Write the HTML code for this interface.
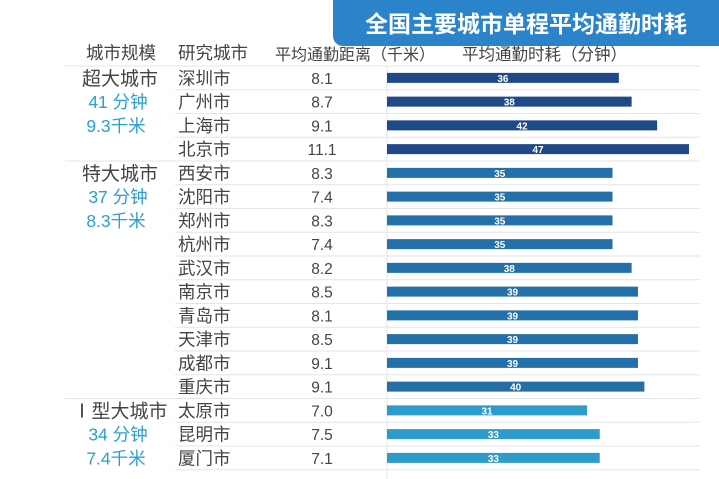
<!DOCTYPE html>
<html><head><meta charset="utf-8"><style>
body{margin:0;width:719px;height:479px;overflow:hidden;background:#fff;font-family:"Liberation Sans","Noto Sans CJK SC",sans-serif;position:relative}
.a{position:absolute;white-space:nowrap}
</style></head><body>
<div class="a" style="left:333px;top:-4px;width:392px;height:50px;background:#2b84c9;border-radius:0 0 0 10px"></div>
<div class="a" style="left:333px;top:5px;width:386px;text-align:center;color:#fff;font-size:23px;font-weight:bold">全国主要城市单程平均通勤时耗</div>
<div class="a" style="left:86px;top:40px;font-size:17.5px;color:#444">城市规模</div>
<div class="a" style="left:178px;top:40px;font-size:17.5px;color:#444">研究城市</div>
<div class="a" style="left:275px;top:41px;font-size:16px;color:#444">平均通勤距离（千米）</div>
<div class="a" style="left:462px;top:41px;font-size:16.5px;color:#444">平均通勤时耗（分钟）</div>
<svg class="a" style="left:0;top:0" width="719" height="479"></svg>
<script>
const cities=["深圳市","广州市","上海市","北京市","西安市","沈阳市","郑州市","杭州市","武汉市","南京市","青岛市","天津市","成都市","重庆市","太原市","昆明市","厦门市"];
const distances=["8.1","8.7","9.1","11.1","8.3","7.4","8.3","7.4","8.2","8.5","8.1","8.5","9.1","9.1","7.0","7.5","7.1"];
const times=[36,38,42,47,35,35,35,35,38,39,39,39,39,40,31,33,33];
const groupNames=["超大城市","特大城市","Ⅰ型大城市"];
const groupTime=["41 分钟","37 分钟","34 分钟"];
const groupDist=["9.3千米","8.3千米","7.4千米"];
const groupStart=[0,4,14];
const colors=["#1f4a87","#1f4a87","#1f4a87","#1f4a87","#2470a8","#2470a8","#2470a8","#2470a8","#2470a8","#2470a8","#2470a8","#2470a8","#2470a8","#256fa6","#2e9ccb","#2e9ccb","#2e9ccb"];
const svg=document.querySelector('svg');
const NS="http://www.w3.org/2000/svg";
const top0=66,step=23.75;
function xs(v){return 587+(v-31)*6.375;}
function yr(i){return top0+i*step;}
function mk(t,a,txt){const e=document.createElementNS(NS,t);for(const k in a)e.setAttribute(k,a[k]);if(txt!==undefined)e.textContent=txt;svg.appendChild(e);return e;}
const vl=mk('line',{x1:387,x2:387,y1:66,y2:479,stroke:'#e2e6ea'});


for(let i=0;i<=cities.length;i++){
  const g=groupStart.includes(i);
  const l=mk('line',{x1:g?65:175,x2:700,y1:yr(i),y2:yr(i),stroke:'#e2e6ea'});
  
  
}
cities.forEach((c,i)=>{
  const cy=yr(i)+step/2;
  const t=mk('text',{x:178,y:cy+6.5,'font-size':17.5,fill:'#444'},c);
  
  
  const d=mk('text',{x:322,y:cy+6,'font-size':15.5,fill:'#444','text-anchor':'middle'},distances[i]);
  
  
  const b=mk('rect',{x:387,y:cy-5,width:xs(times[i])-387,height:10,fill:colors[i]});
  
  
  const bt=mk('text',{x:(387+xs(times[i]))/2,y:cy+4,'font-size':10,'font-weight':'bold',fill:'#fff','text-anchor':'middle'},times[i]);
  
  
});
groupNames.forEach((g,k)=>{
  const y=yr(groupStart[k])+step/2;
  const a=mk('text',{x:120,y:y+7,'font-size':19,fill:'#444','text-anchor':'middle'},g);
  
  
  const b=mk('text',{x:118,y:y+step+6.5,'font-size':17.5,fill:'#2a9fd0','text-anchor':'middle'},groupTime[k]);
  
  
  const c=mk('text',{x:116,y:y+2*step+6.5,'font-size':17.5,fill:'#2a9fd0','text-anchor':'middle'},groupDist[k]);
  
  
});
</script>
</body></html>
